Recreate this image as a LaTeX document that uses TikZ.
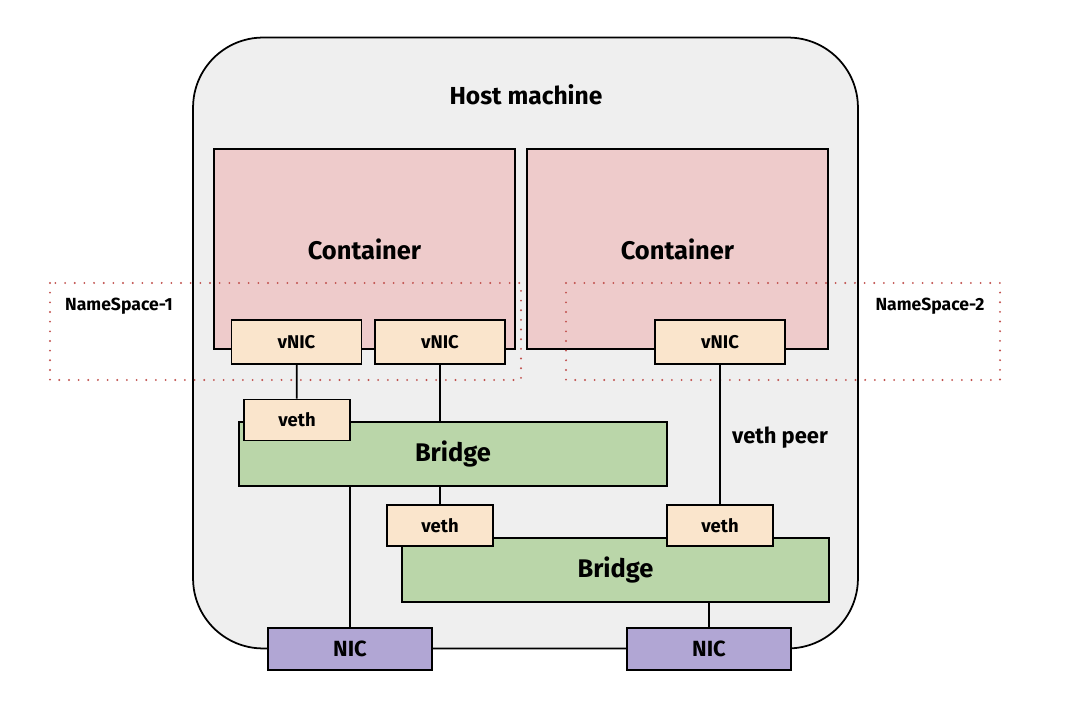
\documentclass[tikz,border=0pt]{standalone}
\usepackage{fontspec}
\setmainfont{Fira Sans}
\usepackage{tikz}
\usetikzlibrary{positioning}
\definecolor{hostgray}{HTML}{EFEFEF}
\definecolor{contpink}{HTML}{EECBCB}
\definecolor{nicpeach}{HTML}{FAE5CC}
\definecolor{brgreen}{HTML}{BAD6A9}
\definecolor{nicpurple}{HTML}{B1A6D4}
\definecolor{nsred}{HTML}{C0504D}
\tikzset{
    box/.style={draw, line width=1pt, inner sep=0pt, font=\bfseries},
    host/.style={box, fill=hostgray, rounded corners=1.4cm, minimum width=13.3cm, minimum height=12.22cm},
    container/.style={box, fill=contpink, minimum width=6.02cm, minimum height=4cm, font=\bfseries\fontsize{14.5}{16}\selectfont},
    vnic/.style={box, fill=nicpeach, minimum width=2.6cm, minimum height=0.88cm, font=\bfseries\fontsize{10.5}{12}\selectfont},
    veth/.style={box, fill=nicpeach, minimum width=2.12cm, minimum height=0.82cm, font=\bfseries\fontsize{10.5}{12}\selectfont},
    bridge/.style={box, fill=brgreen, minimum height=1.28cm, font=\bfseries\fontsize{14.5}{16}\selectfont},
    nic/.style={box, fill=nicpurple, minimum width=3.28cm, minimum height=0.84cm, font=\bfseries\fontsize{12.5}{14}\selectfont},
    ns/.style={nsred, line width=1.2pt, dash pattern=on 0pt off 5.5pt, line cap=round},
    nslabel/.style={font=\bfseries\fontsize{10}{12}\selectfont},
    link/.style={line width=1pt}
}
\begin{document}
\begin{tikzpicture}[x=0.02cm, y=-0.02cm]
    \useasboundingbox (0,0) rectangle (1076,722);
    \node[host]                   (host)  at (525.5,343)  {};
    \node[font=\bfseries\fontsize{14}{16}\selectfont] (hostlbl) at (526,95) {Host machine};
    \node[container]              (cont1) at (364.5,249)  {Container};
    \node[container]              (cont2) at (677.5,249)  {Container};

    \draw[ns] (50,283) rectangle (521,380);
    \draw[ns] (566,283) rectangle (1000,380);
    \node[nslabel]                (ns1)   at (119,306)    {NameSpace-1};
    \node[nslabel]                (ns2)   at (930,306)    {NameSpace-2};

    \node[vnic]                   (vnic1) at (296.5,342)  {vNIC};
    \node[vnic]                   (vnic2) at (440,342)    {vNIC};
    \node[vnic]                   (vnic3) at (720,342)    {vNIC};

    \node[bridge, minimum width=8.56cm] (br1) at (453,454) {Bridge};
    \node[veth]                   (veth1) at (297,420)    {veth};
    \node[bridge, minimum width=8.54cm] (br2) at (615.5,570) {Bridge};
    \node[veth]                   (veth2) at (440,525.5)  {veth};
    \node[veth]                   (veth3) at (720,525.5)  {veth};

    \node[nic]                    (nic1)  at (350,649)    {NIC};
    \node[nic]                    (nic2)  at (709,649)    {NIC};

    \node[font=\bfseries\fontsize{12.5}{14}\selectfont] (peer) at (780,438) {veth peer};

    \draw[link] (vnic1) -- (veth1)
                (vnic2.south) -- (vnic2.south |- br1.north)
                (veth2.north |- br1.south) -- (veth2.north)
                (vnic3) -- (veth3)
                (nic1.north |- br1.south) -- (nic1.north)
                (nic2.north |- br2.south) -- (nic2.north);
\end{tikzpicture}
\end{document}
